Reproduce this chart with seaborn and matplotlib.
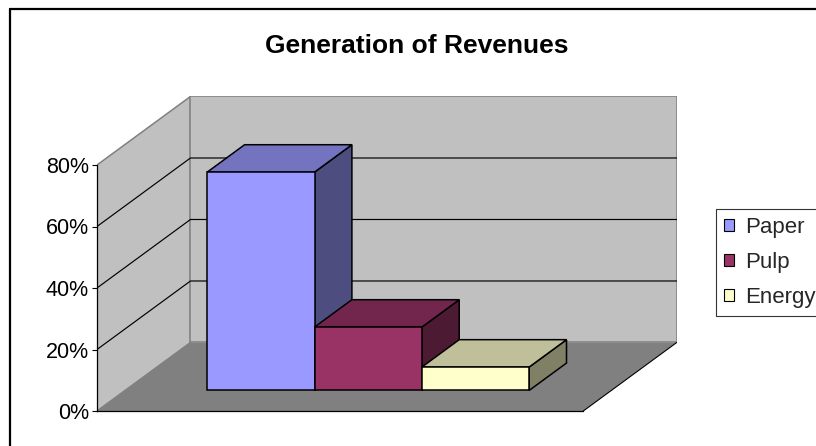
import matplotlib
matplotlib.use("Agg")
import numpy as np
import pandas as pd
import seaborn as sns
import matplotlib.pyplot as plt
from matplotlib.patches import Polygon, Patch
from matplotlib.lines import Line2D
from matplotlib.transforms import Affine2D

# ---------------- data ----------------
series = ["Paper", "Pulp", "Energy"]
values = [71.0, 20.6, 7.6]
yticks = [0, 20, 40, 60, 80]
ytick_labels = ["0%", "20%", "40%", "60%", "80%"]
title = "Generation of Revenues"

# ---------------- style ----------------
front_colors = ["#9999FF", "#993366", "#FFFFCC"]
top_colors = ["#7373BF", "#73264D", "#BFBF99"]
side_colors = ["#4D4D80", "#4D1A33", "#808066"]
wall_color = "#C0C0C0"
floor_color = "#808080"
wall_edge = "#808080"

W, H, DPI = 816, 446, 100
sns.set_theme(style="white")
plt.rcParams["font.family"] = ["Liberation Sans", "DejaVu Sans"]

fig = plt.figure(figsize=(W / DPI, H / DPI), dpi=DPI)

# projection geometry
x0_px, y0_px = 97, 411      # front-left corner of floor (pixels)
bar_px = 107.3              # pixels per bar width
pct_px = 3.075              # pixels per 1 %
gap = 0.766                 # side gap in bar widths
DX = 0.871                  # depth offset, x (bar widths)
DY = 22.28                  # depth offset, y (%)
wall_top = yticks[-1]
d0, d1 = 0.3, 0.7           # bar depth span

xl = -0.5 - gap
xr = len(series) - 0.5 + gap
xlim = (xl, xr + DX)
ylim = (0, wall_top + DY)
ax_w = (xlim[1] - xlim[0]) * bar_px
ax_h = (ylim[1] - ylim[0]) * pct_px
ax = fig.add_axes([x0_px / W, (H - y0_px) / H, ax_w / W, ax_h / H])
ax.patch.set_alpha(0)

# walls and floor
side_wall = Polygon([(xl, 0), (xl, wall_top), (xl + DX, wall_top + DY), (xl + DX, DY)],
                    closed=True, facecolor=wall_color, edgecolor=wall_edge, lw=1.1, zorder=1)
back_wall = Polygon([(xl + DX, DY), (xl + DX, wall_top + DY), (xr + DX, wall_top + DY), (xr + DX, DY)],
                    closed=True, facecolor=wall_color, edgecolor=wall_edge, lw=1.1, zorder=1)
floor = Polygon([(xl, 0), (xr, 0), (xr + DX, DY), (xl + DX, DY)],
                closed=True, facecolor=floor_color, edgecolor="none", zorder=1.2)
for p in (side_wall, back_wall, floor):
    ax.add_patch(p)
ax.plot([xr, xr + DX], [0, DY], color="black", lw=0.8, zorder=1.3)

# gridlines
for v in yticks[1:-1]:
    ax.plot([xl, xl + DX, xr + DX], [v, v + DY, v + DY], color="black", lw=0.85, zorder=1.5)

# bars (front faces) via seaborn
df = pd.DataFrame({"series": series, "value": values})
sns.barplot(data=df, x="series", y="value", hue="series", palette=front_colors,
            width=1.0, saturation=1, legend=False, ax=ax,
            edgecolor="black", linewidth=1.1)

bars = sorted([p for p in ax.patches if p not in (side_wall, back_wall, floor)],
              key=lambda r: r.get_x())
shift = Affine2D().translate(d0 * DX, d0 * DY) + ax.transData
for i, rect in enumerate(bars):
    x, w, h = rect.get_x(), rect.get_width(), rect.get_height()
    side = Polygon([(x + w + d0 * DX, h + d0 * DY), (x + w + d1 * DX, h + d1 * DY),
                    (x + w + d1 * DX, d1 * DY), (x + w + d0 * DX, d0 * DY)],
                   closed=True, facecolor=side_colors[i], edgecolor="black", lw=1.1,
                   joinstyle="miter", zorder=3 + i)
    top = Polygon([(x + d0 * DX, h + d0 * DY), (x + w + d0 * DX, h + d0 * DY),
                   (x + w + d1 * DX, h + d1 * DY), (x + d1 * DX, h + d1 * DY)],
                  closed=True, facecolor=top_colors[i], edgecolor="black", lw=1.1,
                  joinstyle="miter", zorder=3 + i + 0.01)
    ax.add_patch(side)
    ax.add_patch(top)
    rect.set_transform(shift)
    rect.set_zorder(3 + i + 0.02)
    rect.set_joinstyle("miter")
    rect.set_clip_on(False)

# axes
ax.set_xlim(xlim)
ax.set_ylim(ylim)
ax.set_xticks([])
ax.set_xlabel("")
ax.set_ylabel("")
ax.set_yticks(yticks, ytick_labels)
ax.grid(False)
for s in ("top", "right"):
    ax.spines[s].set_visible(False)
ax.spines["left"].set_bounds(0, wall_top)
ax.spines["bottom"].set_bounds(xl, xr)
for s in ("left", "bottom"):
    ax.spines[s].set_color("black")
    ax.spines[s].set_linewidth(0.9)
    ax.spines[s].set_zorder(2)
ax.tick_params(axis="y", left=True, direction="out", length=3.8, width=0.8,
               color="black", labelsize=15.5, pad=2, labelcolor="black")

# title
fig.text(417 / W, 1 - 53 / H, title, ha="center", va="baseline",
         fontsize=19, fontweight="bold", color="black")

# legend
handles = [Patch(facecolor=c, edgecolor="black", linewidth=0.8) for c in front_colors]
leg = fig.legend(handles, series, loc="upper left", bbox_to_anchor=(716 / W, 1 - 209 / H),
                 bbox_transform=fig.transFigure, frameon=True, fancybox=False, shadow=False,
                 fontsize=16, handlelength=0.45, handleheight=0.45, handletextpad=0.5,
                 borderpad=0.36, labelspacing=0.62, borderaxespad=0)
leg.get_frame().set_edgecolor("black")
leg.get_frame().set_linewidth(0.8)
leg.get_frame().set_facecolor("white")

# outer chart border
fig.add_artist(Line2D([10 / W, 10 / W], [0, 1 - 9 / H], color="black", lw=1.6,
                      transform=fig.transFigure))
fig.add_artist(Line2D([10 / W, 1], [1 - 9 / H, 1 - 9 / H], color="black", lw=1.6,
                      transform=fig.transFigure))

fig.savefig("out.png", dpi=DPI)
